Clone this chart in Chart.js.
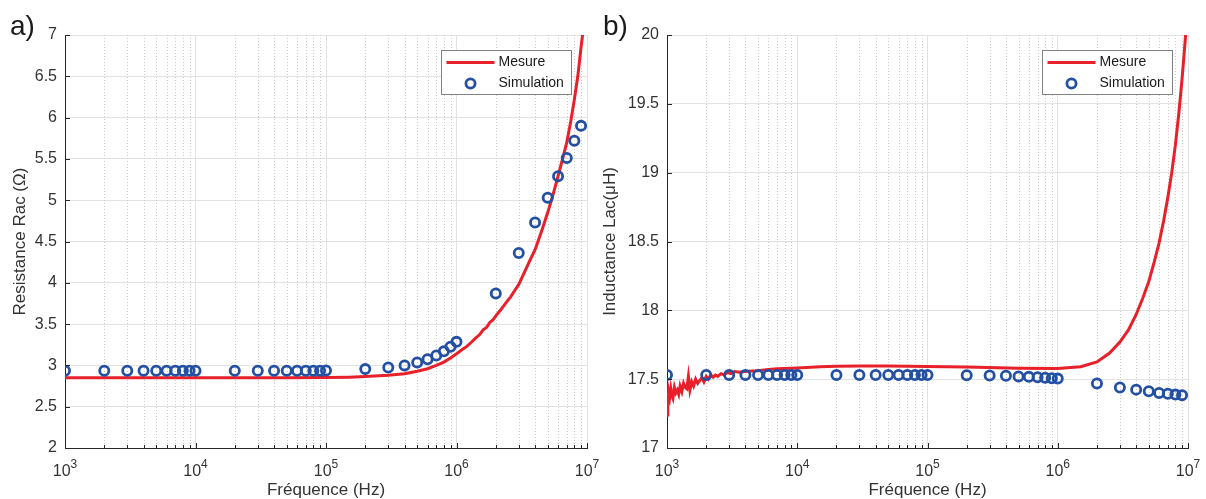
<!DOCTYPE html>
<html><head><meta charset="utf-8">
<script src="https://cdn.jsdelivr.net/npm/chart.js@4/dist/chart.umd.min.js"></script>
<style>
html,body{margin:0;padding:0;background:#fff;width:1206px;height:499px;overflow:hidden}
canvas{position:absolute;left:0;top:0}
</style></head><body>
<canvas id="c1" width="1206" height="499" style="width:1206px;height:499px"></canvas>
<canvas id="c2" width="1206" height="499" style="width:1206px;height:499px"></canvas>
<script>
// ---------- DATA ----------
const xTickValues = [1e3, 1e4, 1e5, 1e6, 1e7];
const xTickExponents = ['3', '4', '5', '6', '7'];
const yTicksR = [2, 2.5, 3, 3.5, 4, 4.5, 5, 5.5, 6, 6.5, 7];
const yTicksL = [17, 17.5, 18, 18.5, 19, 19.5, 20];

const simFreq = [1e3,2e3,3e3,4e3,5e3,6e3,7e3,8e3,9e3,
                 1e4,2e4,3e4,4e4,5e4,6e4,7e4,8e4,9e4,
                 1e5,2e5,3e5,4e5,5e5,6e5,7e5,8e5,9e5,
                 1e6,2e6,3e6,4e6,5e6,6e6,7e6,8e6,9e6];
const simR = [2.935,2.935,2.935,2.935,2.935,2.935,2.935,2.935,2.935,
              2.935,2.935,2.935,2.935,2.935,2.935,2.935,2.935,2.935,
              2.938,2.955,2.975,3.0,3.035,3.075,3.12,3.17,3.225,
              3.285,3.87,4.36,4.73,5.03,5.29,5.51,5.72,5.90];
const simL = [17.53,17.53,17.53,17.53,17.53,17.53,17.53,17.53,17.53,
              17.53,17.53,17.53,17.53,17.53,17.53,17.53,17.53,17.53,
              17.53,17.528,17.527,17.525,17.52,17.517,17.514,17.51,17.507,
              17.504,17.468,17.44,17.424,17.412,17.40,17.394,17.388,17.384];

const measFreqR = [1e3,2e3,5e3,1e4,2e4,5e4,1e5,1.5e5,2e5,3e5,4e5,5e5,6e5,7e5,8e5,9e5,
                   1e6,1.1e6,1.2e6,1.3e6,1.4e6,1.5e6,1.6e6,1.7e6,1.8e6,1.9e6,2e6,
                   2.2e6,2.4e6,2.6e6,2.8e6,3e6,3.3e6,3.6e6,4e6,4.5e6,5e6,5.5e6,
                   6e6,6.5e6,7e6,7.5e6,8e6,8.5e6,9e6,9.5e6,1e7];
const measR = [2.85,2.85,2.85,2.85,2.85,2.85,2.853,2.858,2.865,2.88,2.90,2.93,2.96,3.0,3.04,3.09,
               3.14,3.19,3.23,3.28,3.33,3.37,3.43,3.46,3.52,3.55,3.60,
               3.68,3.76,3.83,3.91,3.98,4.12,4.25,4.40,4.63,4.85,5.07,
               5.29,5.50,5.70,5.95,6.22,6.50,6.85,7.15,7.5];

const measFreqL = [1000,1015,1030,1050,1070,1090,1110,1140,1170,1200,1230,1260,1300,1340,1380,
                   1420,1460,1500,1550,1600,1660,1720,1780,1850,1920,2000,2080,2170,2260,2350,
                   2450,2600,2750,2900,3100,3300,3600,4000,4500,5000,6000,7000,8000,1e4,1.5e4,
                   2e4,3e4,5e4,1e5,2e5,5e5,1e6,1.5e6,2e6,2.5e6,3e6,3.5e6,4e6,4.5e6,5e6,
                   5.5e6,6e6,6.5e6,7e6,7.5e6,8e6,8.5e6,9e6,9.5e6,1e7];
const measL = [17.24,17.30,17.41,17.37,17.43,17.38,17.36,17.44,17.40,17.42,17.39,17.45,17.41,17.47,17.44,
               17.43,17.52,17.42,17.48,17.45,17.50,17.47,17.49,17.51,17.48,17.52,17.50,17.53,17.515,17.53,
               17.52,17.54,17.53,17.55,17.54,17.555,17.55,17.555,17.56,17.562,17.57,17.575,17.578,17.582,17.59,
               17.593,17.595,17.595,17.592,17.588,17.58,17.577,17.59,17.625,17.69,17.77,17.86,17.97,18.09,18.21,
               18.35,18.49,18.65,18.82,19.0,19.2,19.43,19.68,19.95,20.25];

// ---------- STYLE ----------
const FONT = "'Liberation Sans', Arial, Helvetica, sans-serif";
const AXIS = '#262626';
const TXT = '#333333';
const RED = '#e8202a';
const BLUE = '#2450a3';

function pts(xs, ys){ return xs.map((x,i)=>({x:x, y:ys[i]})); }

function minorValues(){
  const m = [];
  for (let d = 1e3; d < 1e7; d *= 10) for (let k = 2; k <= 9; k++) m.push(d*k);
  return m;
}

const minorGridPlugin = {
  id: 'minorGrid',
  beforeDatasetsDraw(chart){
    const {ctx, chartArea:a, scales} = chart;
    const xs = scales.x;
    ctx.save();
    ctx.strokeStyle = '#cdcdcd';
    ctx.lineWidth = 1;
    ctx.setLineDash([1,2]);
    minorValues().forEach(v=>{
      const px = Math.round(xs.getPixelForValue(v)) + 0.5;
      ctx.beginPath(); ctx.moveTo(px, a.top); ctx.lineTo(px, a.bottom); ctx.stroke();
    });
    ctx.restore();
  },
  afterDraw(chart){
    const {ctx, chartArea:a, scales} = chart;
    const xs = scales.x, ys = scales.y;
    ctx.save();
    ctx.strokeStyle = AXIS; ctx.lineWidth = 1; ctx.setLineDash([]);
    ctx.beginPath();
    minorValues().forEach(v=>{
      const px = Math.round(xs.getPixelForValue(v)) + 0.5;
      ctx.moveTo(px, a.bottom); ctx.lineTo(px, a.bottom - 3);
    });
    xs.ticks.forEach(t=>{
      const px = Math.round(xs.getPixelForValue(t.value)) + 0.5;
      ctx.moveTo(px, a.bottom); ctx.lineTo(px, a.bottom - 5);
    });
    ys.ticks.forEach(t=>{
      const py = Math.round(ys.getPixelForValue(t.value)) + 0.5;
      ctx.moveTo(a.left, py); ctx.lineTo(a.left + 5, py);
    });
    ctx.stroke();
    // x tick labels: 10 with superscript exponent
    ctx.fillStyle = TXT;
    ctx.textBaseline = 'alphabetic';
    xs.ticks.forEach((t, i)=>{
      const px = xs.getPixelForValue(t.value);
      const base = '10', exp = xTickExponents[i];
      ctx.font = '16px ' + FONT;
      const wb = ctx.measureText(base).width;
      ctx.font = '12px ' + FONT;
      const we = ctx.measureText(exp).width;
      const x0 = px - (wb + we) / 2;
      ctx.font = '16px ' + FONT;
      ctx.textAlign = 'left';
      ctx.fillText(base, x0, a.bottom + 28);
      ctx.font = '12px ' + FONT;
      ctx.fillText(exp, x0 + wb, a.bottom + 20);
    });
    ctx.restore();
  }
};

const boxLegendPlugin = {
  id: 'boxLegend',
  afterDraw(chart, args, opts){
    const {ctx, chartArea:a} = chart;
    const w = 130, h = 44;
    const x0 = Math.round(a.right - opts.right - w) + 0.5, y0 = Math.round(a.top + opts.top) + 0.5;
    const ds = chart.data.datasets;
    ctx.save();
    ctx.fillStyle = '#ffffff';
    ctx.fillRect(x0, y0, w, h);
    ctx.strokeStyle = '#828282'; ctx.lineWidth = 1;
    ctx.strokeRect(x0, y0, w, h);
    const lineDs = ds[1], ptDs = ds[0];
    ctx.strokeStyle = lineDs.borderColor; ctx.lineWidth = lineDs.borderWidth;
    ctx.beginPath(); ctx.moveTo(x0 + 5, y0 + 12); ctx.lineTo(x0 + 53, y0 + 12); ctx.stroke();
    ctx.strokeStyle = ptDs.borderColor; ctx.lineWidth = ptDs.pointBorderWidth;
    ctx.beginPath(); ctx.arc(x0 + 29, y0 + 33, ptDs.pointRadius, 0, Math.PI*2); ctx.stroke();
    ctx.fillStyle = '#1a1a1a';
    ctx.font = '14px ' + FONT;
    ctx.textBaseline = 'middle'; ctx.textAlign = 'left';
    ctx.fillText(lineDs.label, x0 + 57, y0 + 12);
    ctx.fillText(ptDs.label, x0 + 57, y0 + 33);
    ctx.restore();
  }
};

const panelLabelPlugin = {
  id: 'panelLabel',
  afterDraw(chart, args, opts){
    const ctx = chart.ctx;
    ctx.save();
    ctx.fillStyle = '#1a1a1a';
    ctx.font = '28px ' + FONT;
    ctx.textBaseline = 'alphabetic'; ctx.textAlign = 'left';
    ctx.fillText(opts.text, opts.x, opts.y);
    ctx.restore();
  }
};

function makeChart(id, cfg){
  const yTickVals = cfg.yTicks;
  return new Chart(document.getElementById(id), {
    type: 'scatter',
    data: {
      datasets: [
        { label: 'Simulation', data: pts(simFreq, cfg.sim), showLine: false,
          pointStyle: 'circle', pointRadius: 4.6, pointHoverRadius: 4.6, pointBorderWidth: 2.8,
          borderColor: BLUE, pointBorderColor: BLUE, backgroundColor: 'rgba(0,0,0,0)',
          pointBackgroundColor: 'rgba(0,0,0,0)', order: 0 },
        { label: 'Mesure', data: pts(cfg.measX, cfg.meas), showLine: true,
          borderColor: RED, borderWidth: 3, pointRadius: 0, pointHoverRadius: 0,
          tension: 0, fill: false, order: 1 }
      ]
    },
    options: {
      responsive: false, animation: false, devicePixelRatio: 1,
      layout: { padding: { left: cfg.padLeft, right: cfg.padRight, top: 35, bottom: 0 } },
      plugins: {
        legend: { display: false }, tooltip: { enabled: false },
        boxLegend: { right: 16, top: 15 },
        panelLabel: { text: cfg.panel, x: cfg.panelX, y: 35 }
      },
      scales: {
        x: {
          type: 'logarithmic', min: 1e3, max: 1e7,
          afterBuildTicks: (s) => { s.ticks = xTickValues.map(v => ({ value: v })); },
          afterFit: (s) => { s.height = 51; },
          ticks: { display: false, autoSkip: false, maxRotation: 0 },
          grid: { color: '#e2e2e2', lineWidth: 1, drawTicks: false },
          border: { display: true, color: AXIS, width: 1 },
          title: { display: true, text: 'Fréquence (Hz)', color: TXT,
                   font: { family: FONT, size: 17, lineHeight: 1 }, padding: { top: 0, bottom: 0 } }
        },
        y: {
          type: 'linear', min: cfg.yMin, max: cfg.yMax,
          afterBuildTicks: (s) => { s.ticks = yTickVals.map(v => ({ value: v })); },
          afterFit: (s) => { s.width = cfg.yWidth; },
          ticks: { color: TXT, padding: 8, font: { family: FONT, size: 16 },
                   callback: (v) => String(v) },
          grid: { color: '#e2e2e2', lineWidth: 1, drawTicks: false },
          border: { display: true, color: AXIS, width: 1 },
          title: { display: true, text: cfg.yTitle, color: TXT,
                   font: { family: FONT, size: 17, lineHeight: 1 }, padding: { top: cfg.yTitlePad, bottom: 0 } }
        }
      }
    },
    plugins: [minorGridPlugin, boxLegendPlugin, panelLabelPlugin]
  });
}

makeChart('c1', {
  sim: simR, meas: measR, measX: measFreqR, yTicks: yTicksR, yMin: 2, yMax: 7,
  padLeft: 0, yWidth: 65, padRight: 1206 - 587, yTitle: 'Resistance Rac (Ω)', yTitlePad: 12,
  panel: 'a)', panelX: 10
});
makeChart('c2', {
  sim: simL, meas: measL, measX: measFreqL, yTicks: yTicksL, yMin: 17, yMax: 20,
  padLeft: 596, yWidth: 71, padRight: 18, yTitle: 'Inductance Lac(μH)', yTitlePad: 6,
  panel: 'b)', panelX: 603
});
</script>
</body></html>
